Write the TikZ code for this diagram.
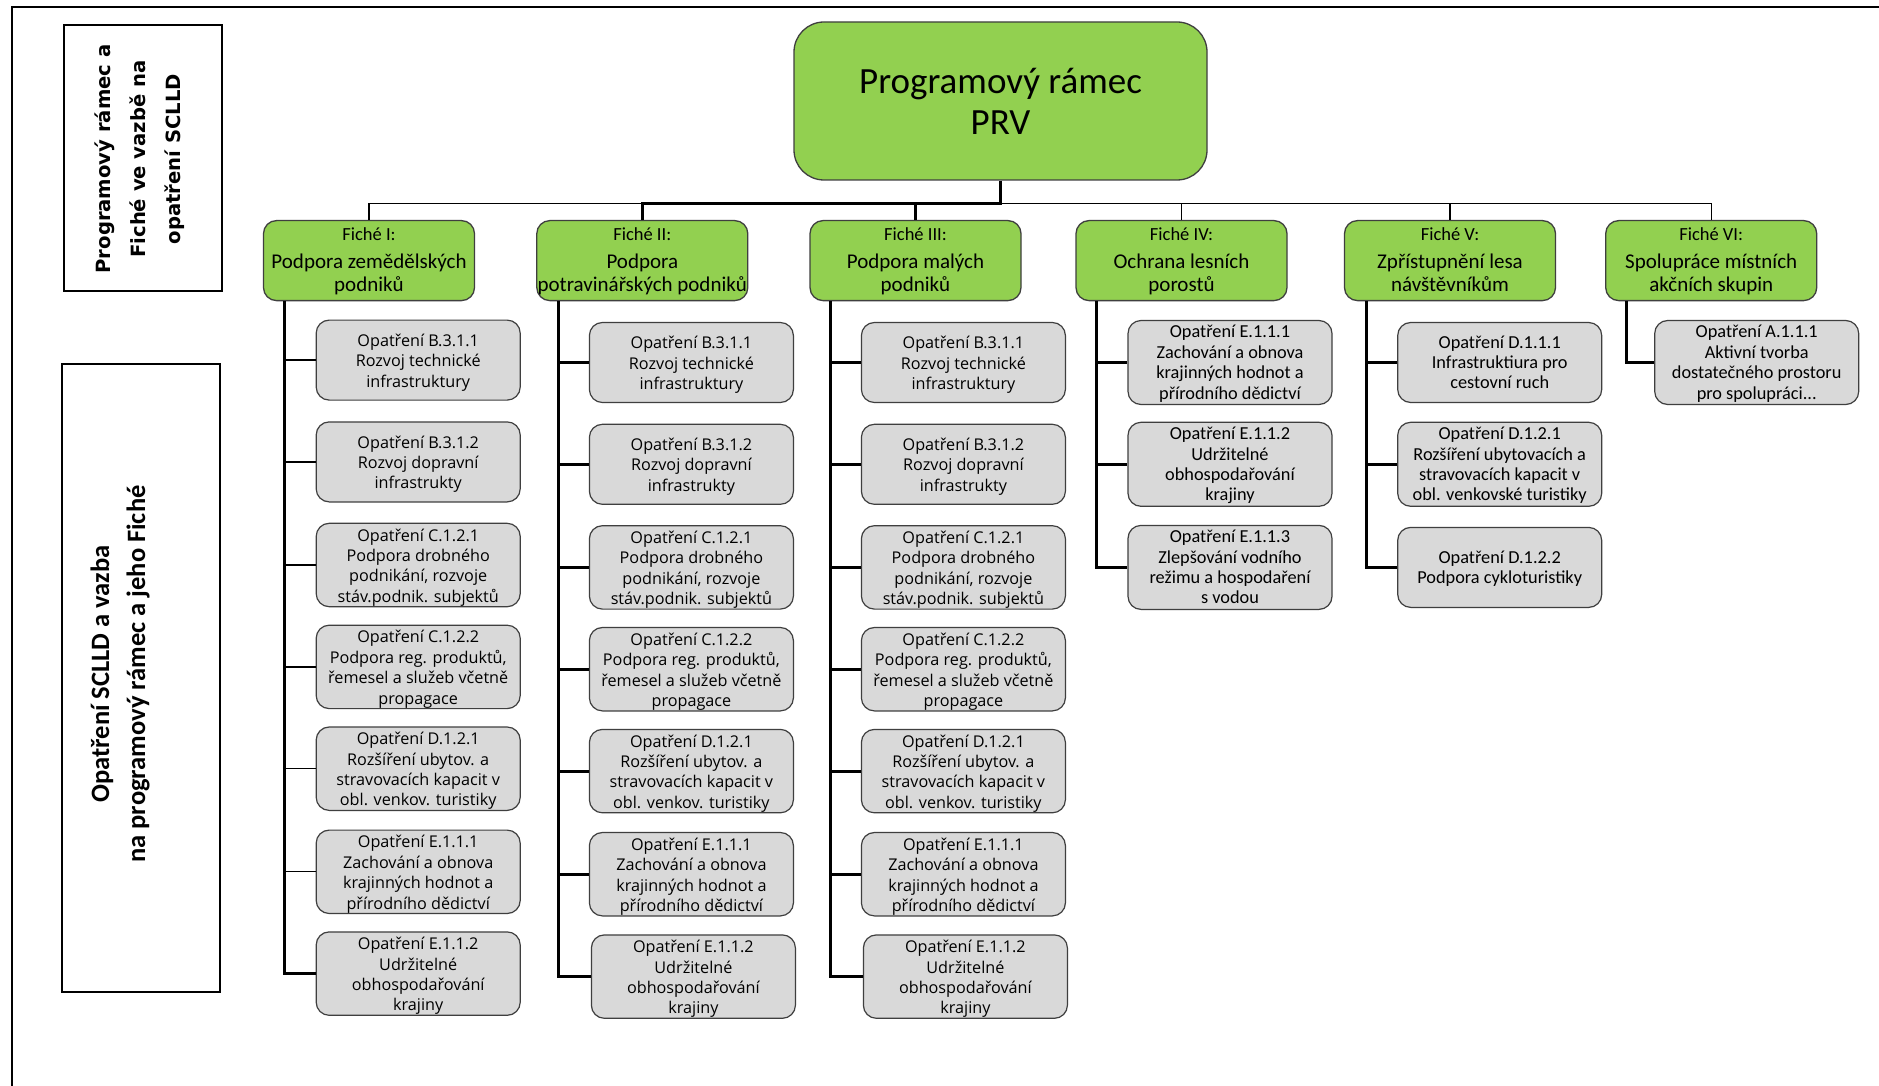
\documentclass[tikz,border=0pt]{standalone}
\usepackage{fontspec}
\setmainfont{Carlito}
\newfontfamily\osans{Open Sans}
\newfontfamily\djv{DejaVu Sans}
\definecolor{grn}{HTML}{92D050}
\definecolor{gry}{HTML}{D9D9D9}
\definecolor{edgec}{HTML}{3F3F3F}
\def\tpH{17pt}\def\btD{5pt}
\newcommand\tp{\rule{0pt}{\tpH}}
\newcommand\bt{\rule[-\btD]{0pt}{\btD}}
\newcommand\fhead[1]{\tp{\fontsize{18.5}{23}\selectfont #1}\\[5pt]}
\newcommand\mBa{\tp Opatření B.3.1.1\\Rozvoj technické\\infrastruktury\bt}
\newcommand\mBb{\tp Opatření B.3.1.2\\Rozvoj dopravní\\infrastrukty\bt}
\newcommand\mCa{\tp Opatření C.1.2.1\\Podpora drobného\\podnikání, rozvoje\\stáv.podnik. subjektů\bt}
\newcommand\mCb{\tp Opatření C.1.2.2\\Podpora reg. produktů,\\řemesel a služeb včetně\\propagace\bt}
\newcommand\mDa{\tp Opatření D.1.2.1\\Rozšíření ubytov. a\\stravovacích kapacit v\\obl. venkov. turistiky\bt}
\newcommand\mEa{\tp Opatření E.1.1.1\\Zachování a obnova\\krajinných hodnot a\\přírodního dědictví\bt}
\newcommand\mEb{\tp Opatření E.1.1.2\\Udržitelné\\obhospodařování\\krajiny\bt}
\tikzset{
 rootbox/.style={draw=edgec, line width=1.3pt, fill=grn, rounded corners=30pt, minimum width=413pt, minimum height=158pt, inner sep=0pt, align=center, font=\fontsize{37}{41}\selectfont},
 fichebox/.style={draw=edgec, line width=1.3pt, fill=grn, rounded corners=13pt, minimum width=211pt, minimum height=80pt, inner sep=0pt, align=center,
   font=\fontsize{21}{23}\selectfont\def\tpH{17.3pt}\def\btD{6pt}},
 measA/.style={draw=edgec, line width=1.2pt, fill=gry, rounded corners=13pt, minimum width=204pt, minimum height=80pt, inner sep=0pt, align=center,
   font=\osans\fontsize{16.2}{20.4}\selectfont\def\tpH{17.7pt}\def\btD{4.5pt}},
 measB/.style={measA, font=\fontsize{18.3}{20.4}\selectfont\def\tpH{17.3pt}\def\btD{5.5pt}},
 sidebox/.style={draw=black, line width=2pt, inner sep=0pt},
 thinline/.style={line width=1.3pt},
 thickline/.style={line width=3pt},
}
\begin{document}
\begin{tikzpicture}[x=1pt,y=-1pt]
\useasboundingbox (0,0) rectangle (1879,1086);
\fill[white] (0,0) rectangle (1879,1086);
% outer frame (partly visible)
\draw[line width=2pt] (12,1090) -- (12,7) -- (1885,7);
% side labels
\node[sidebox, minimum width=158pt, minimum height=266pt] (sideA) at (143,158) {};
\node[rotate=90, align=center, font=\djv\bfseries\fontsize{19.6}{35}\selectfont] (sideAt) at (139.5,159) {Programový rámec a\\Fiché ve vazbě na\\opatření SCLLD};
\node[sidebox, minimum width=158pt, minimum height=628pt] (sideB) at (141,678) {};
\node[rotate=90, align=center, font=\bfseries\fontsize{26.5}{36}\selectfont] (sideBt) at (120,674) {Opatření SCLLD a vazba\\na programový rámec a jeho Fiché};
% root
\node[rootbox] (root) at (1000.5,101) {Programový rámec\\PRV};
% fiche
\node[fichebox] (fI) at (369,260.6) {\fhead{Fiché I:}Podpora zemědělských\\podniků\bt};
\node[fichebox] (fII) at (642.3,260.6) {\fhead{Fiché II:}Podpora\\potravinářských podniků\bt};
\node[fichebox] (fIII) at (915.5,260.6) {\fhead{Fiché III:}Podpora malých\\podniků\bt};
\node[fichebox] (fIV) at (1181.5,260.6) {\fhead{Fiché IV:}Ochrana lesních\\porostů\bt};
\node[fichebox] (fV) at (1450,260.6) {\fhead{Fiché V:}Zpřístupnění lesa\\návštěvníkům\bt};
\node[fichebox] (fVI) at (1711.2,260.6) {\fhead{Fiché VI:}Spolupráce místních\\akčních skupin\bt};
% bus
\coordinate (bus) at (1000.5,203.7);
\draw[thinline] (fI.north) -- (fI.north |- bus) -- (fVI.north |- bus) -- (fVI.north);
\draw[thinline] (fIV.north |- bus) -- (fIV.north);
\draw[thinline] (fV.north |- bus) -- (fV.north);
\draw[thickline] (root.south) -- (bus) -- (fII.north |- bus) -- (fII.north);
\draw[thickline] (fIII.north |- bus) -- (fIII.north);
% column I
\node[measA] (a1) at (418.2,360.1) {\mBa};
\node[measA] (a2) at (418.2,461.9) {\mBb};
\node[measA] (a3) at (418.2,565.0) {\mCa};
\node[measA] (a4) at (418.2,666.9) {\mCb};
\node[measA] (a5) at (418.2,768.7) {\mDa};
\node[measA] (a6) at (418.2,871.8) {\mEa};
\node[measA] (a7) at (418.2,973.6) {\mEb};
\coordinate (tI) at (284,300.8);
\draw[thickline] (tI) |- (a7.west);
\foreach \n in {a1,a2,a3,a4,a5,a6} \draw[thinline] (tI |- \n.west) -- (\n.west);
% column II
\node[measA] (b1) at (691.4,362.5) {\mBa};
\node[measA] (b2) at (691.4,464.3) {\mBb};
\node[measA] (b3) at (691.4,567.4) {\mCa};
\node[measA] (b4) at (691.4,669.2) {\mCb};
\node[measA] (b5) at (691.4,771.1) {\mDa};
\node[measA] (b6) at (691.4,874.2) {\mEa};
\node[measA] (b7) at (693.4,976.6) {\mEb};
\coordinate (tII) at (558.4,300.8);
\draw[thickline] (tII) |- (b7.west);
\foreach \n in {b1,b2,b3,b4,b5,b6} \draw[thickline] (tII |- \n.west) -- (\n.west);
% column III
\node[measA] (c1) at (963.4,362.5) {\mBa};
\node[measA] (c2) at (963.4,464.3) {\mBb};
\node[measA] (c3) at (963.4,567.4) {\mCa};
\node[measA] (c4) at (963.4,669.2) {\mCb};
\node[measA] (c5) at (963.4,771.1) {\mDa};
\node[measA] (c6) at (963.4,874.2) {\mEa};
\node[measA] (c7) at (965.4,976.6) {\mEb};
\coordinate (tIII) at (830.4,300.8);
\draw[thickline] (tIII) |- (c7.west);
\foreach \n in {c1,c2,c3,c4,c5,c6} \draw[thickline] (tIII |- \n.west) -- (\n.west);
% column IV
\node[measB] (d1) at (1230,362.5) {\tp Opatření E.1.1.1\\Zachování a obnova\\krajinných hodnot a\\přírodního dědictví\bt};
\node[measB] (d2) at (1230,464.3) {\tp Opatření E.1.1.2\\Udržitelné\\obhospodařování\\krajiny\bt};
\node[measB] (d3) at (1230,567.4) {\tp Opatření E.1.1.3\\Zlepšování vodního\\režimu a hospodaření\\s vodou\bt};
\coordinate (tIV) at (1096.5,300.8);
\draw[thickline] (tIV) |- (d3.west);
\foreach \n in {d1,d2} \draw[thickline] (tIV |- \n.west) -- (\n.west);
% column V
\node[measB] (e1) at (1499.7,362.5) {\tp Opatření D.1.1.1\\Infrastruktiura pro\\cestovní ruch\bt};
\node[measB] (e2) at (1499.7,464.3) {\tp Opatření D.1.2.1\\Rozšíření ubytovacích a\\stravovacích kapacit v\\obl. venkovské turistiky\bt};
\node[measB] (e3) at (1499.7,567.4) {\tp Opatření D.1.2.2\\Podpora cykloturistiky\bt};
\coordinate (tV) at (1366,300.8);
\draw[thickline] (tV) |- (e3.west);
\foreach \n in {e1,e2} \draw[thickline] (tV |- \n.west) -- (\n.west);
% column VI
\node[measB] (g1) at (1756.7,362.5) {\tp Opatření A.1.1.1\\Aktivní tvorba\\dostatečného prostoru\\pro spolupráci...\bt};
\coordinate (tVI) at (1626,300.8);
\draw[thickline] (tVI) |- (g1.west);
\end{tikzpicture}
\end{document}
